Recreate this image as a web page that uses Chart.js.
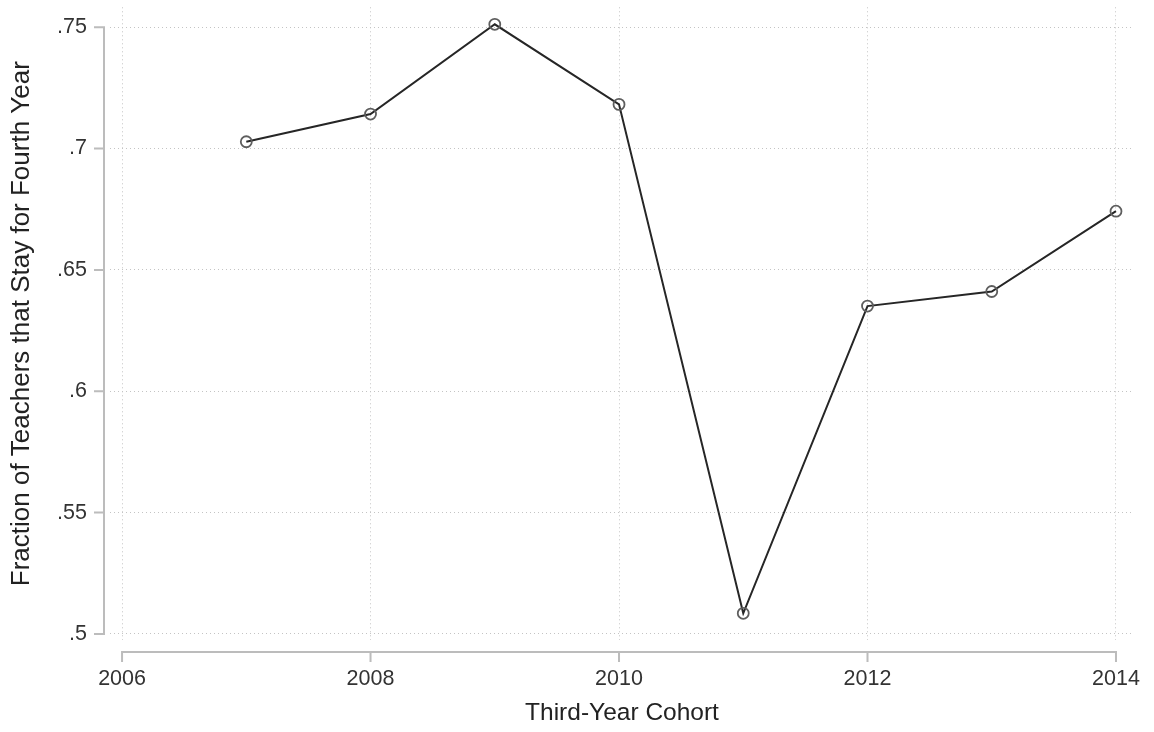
<!DOCTYPE html>
<html>
<head>
<meta charset="utf-8">
<script src="https://cdn.jsdelivr.net/npm/chart.js@4.4.1/dist/chart.umd.min.js"></script>
<style>
  html, body { margin: 0; padding: 0; background: #fff; }
  #wrap { width: 1154px; height: 732px; }
</style>
</head>
<body>
<div id="wrap"><canvas id="myChart" width="1154" height="732"></canvas></div>
<script>
// cohort years and fraction staying for the fourth year
const years = [2007, 2008, 2009, 2010, 2011, 2012, 2013, 2014];
const fractionStay = [0.7028, 0.7142, 0.7512, 0.7182, 0.5085, 0.6351, 0.6411, 0.6742];

// axis ticks
const xTicks = [2006, 2008, 2010, 2012, 2014];
const yTicks = [0.5, 0.55, 0.6, 0.65, 0.7, 0.75];

const fontFamily = '"Liberation Sans", Arial, Helvetica, sans-serif';

// Stata-like axis lines that only span the tick range and sit off the plot region
const stataAxes = {
    id: 'stataAxes',
    afterDraw(chart) {
        const { ctx, chartArea, scales } = chart;
        const x = scales.x, y = scales.y;
        ctx.save();
        ctx.strokeStyle = '#bcbcbc';
        ctx.lineWidth = 2;
        ctx.lineCap = 'butt';

        // y axis
        const ax = chartArea.left - 6;
        const yTop = y.getPixelForValue(yTicks[yTicks.length - 1]);
        const yBot = y.getPixelForValue(yTicks[0]);
        ctx.beginPath();
        ctx.moveTo(ax, yTop - 1);
        ctx.lineTo(ax, yBot + 1);
        yTicks.forEach(v => {
            const py = y.getPixelForValue(v);
            ctx.moveTo(ax, py);
            ctx.lineTo(ax - 10, py);
        });
        ctx.stroke();

        // x axis
        const ay = chartArea.bottom + 12;
        const xL = x.getPixelForValue(xTicks[0]);
        const xR = x.getPixelForValue(xTicks[xTicks.length - 1]);
        ctx.beginPath();
        ctx.moveTo(xL - 1, ay);
        ctx.lineTo(xR + 1, ay);
        xTicks.forEach(v => {
            const px = x.getPixelForValue(v);
            ctx.moveTo(px, ay);
            ctx.lineTo(px, ay + 10);
        });
        ctx.stroke();
        ctx.restore();
    }
};

// no extra label padding, the layout padding decides the plot region
function noPad(s) {
    s.paddingTop = 0;
    s.paddingBottom = 0;
    s.paddingLeft = 0;
    s.paddingRight = 0;
}

const ctx = document.getElementById('myChart').getContext('2d');
new Chart(ctx, {
    type: 'line',
    data: {
        datasets: [{
            label: 'Fraction of Teachers that Stay for Fourth Year',
            data: years.map((yr, i) => ({ x: yr, y: fractionStay[i] })),
            borderColor: '#262626',
            borderWidth: 2,
            pointRadius: 5.5,
            pointHoverRadius: 5.5,
            pointBorderWidth: 1.8,
            pointBorderColor: '#5e5e5e',
            pointBackgroundColor: 'rgba(0,0,0,0)',
            tension: 0,
            fill: false
        }]
    },
    options: {
        responsive: false,
        animation: false,
        events: [],
        layout: { padding: { top: 5, right: 20, left: 0, bottom: 0 } },
        plugins: {
            legend: { display: false },
            tooltip: { enabled: false }
        },
        scales: {
            x: {
                type: 'linear',
                min: 2005.903,
                max: 2014.145,
                afterBuildTicks: s => { s.ticks = xTicks.map(v => ({ value: v })); },
                afterFit: s => { s.height = 92; noPad(s); },
                border: { display: false, dash: [1, 3] },
                grid: {
                    color: '#c4c4c4',
                    lineWidth: 1,
                    drawTicks: false
                },
                ticks: {
                    padding: 26,
                    color: '#333',
                    font: { family: fontFamily, size: 21.5 },
                    maxRotation: 0,
                    callback: v => String(v)
                },
                title: {
                    display: true,
                    text: 'Third-Year Cohort',
                    color: '#222',
                    font: { family: fontFamily, size: 24.5 },
                    padding: { top: 0, bottom: 4 }
                }
            },
            y: {
                type: 'linear',
                min: 0.4975,
                max: 0.7582,
                afterBuildTicks: s => { s.ticks = yTicks.map(v => ({ value: v })); },
                afterFit: s => { s.width = 110; noPad(s); },
                border: { display: false, dash: [1, 3] },
                grid: {
                    color: '#c4c4c4',
                    lineWidth: 1,
                    drawTicks: false
                },
                ticks: {
                    padding: 23,
                    color: '#333',
                    font: { family: fontFamily, size: 21.5 },
                    callback: v => String(Math.round(v * 100) / 100).replace(/^0/, '')
                },
                title: {
                    display: true,
                    text: 'Fraction of Teachers that Stay for Fourth Year',
                    color: '#222',
                    font: { family: fontFamily, size: 26 },
                    padding: { top: 6, bottom: 0 }
                }
            }
        }
    },
    plugins: [stataAxes]
});
</script>
</body>
</html>
